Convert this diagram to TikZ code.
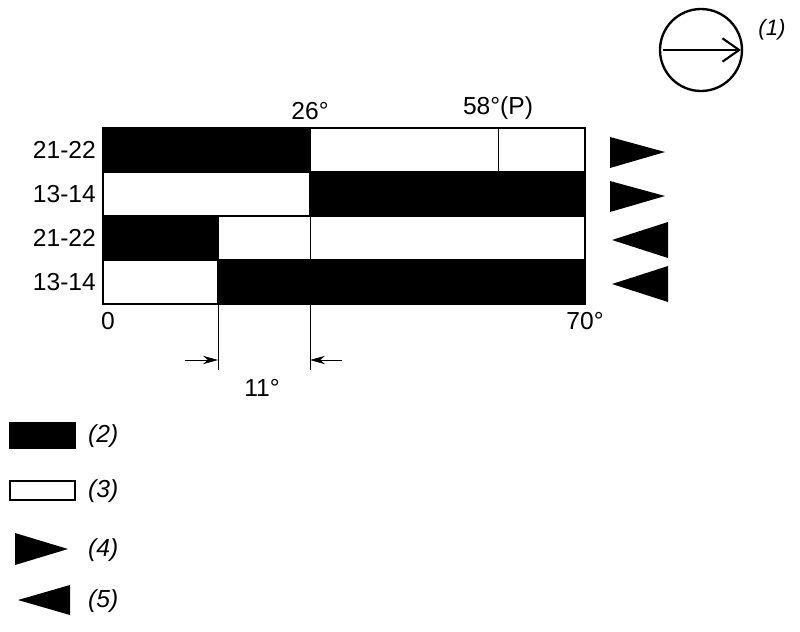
\documentclass[tikz,border=0pt]{standalone}
\usepackage{fontspec}
\setmainfont{Liberation Sans}
\usetikzlibrary{arrows.meta}
\begin{document}
\begin{tikzpicture}[x=0.03cm,y=-0.03cm,font=\fontsize{21}{24}\selectfont,
    bar/.style={draw=black, line width=1pt},
    full/.style={bar, fill=black},
    thin/.style={line width=0.6pt},
    tri/.style={fill=black}]
    \useasboundingbox (0,0) rectangle (800,631);

    % Bars
    \draw[full] (103,128) rectangle (310,172);
    \draw[bar] (310,128) rectangle (585,172);
    \draw[thin] (498,128) -- (498,172);
    \draw[bar] (103,172) rectangle (310,216);
    \draw[full] (310,172) rectangle (585,216);
    \draw[full] (103,216) rectangle (218,260);
    \draw[bar] (218,216) rectangle (585,260);
    \draw[bar] (103,260) rectangle (218,304);
    \draw[full] (218,260) rectangle (585,304);
    \draw[thin] (310,216) -- (310,260);

    % Row labels
    \foreach \y/\t in {150/21-22, 194/13-14, 238/21-22, 282/13-14}
        \node[anchor=east] at (100,\y) {\t};
    \node[anchor=south] at (310,124) {26°};
    \node[anchor=south] at (498,124) {58°(P)};
    \node[anchor=north] at (108,308) {0};
    \node[anchor=north] at (585,308) {70°};

    % Dimension 11°
    \draw[thin] (218,304) -- (218,370);
    \draw[thin] (310,304) -- (310,370);
    \draw[thin, -{Stealth[length=4.5mm,width=2.5mm]}] (185,360) -- (218,360);
    \draw[thin, -{Stealth[length=4.5mm,width=2.5mm]}] (342,360) -- (310,360);
    \node at (262,388) {11°};

    % Direction triangles
    \fill[tri] (610,137) -- (665,152) -- (610,168) -- cycle;
    \fill[tri] (610,181) -- (665,196) -- (610,212) -- cycle;
    \fill[tri] (668,222) -- (612,240) -- (668,258) -- cycle;
    \fill[tri] (668,266) -- (612,284) -- (668,302) -- cycle;

    % Rotation symbol
    \draw[line width=2pt] (701,50) circle (41);
    \draw[line width=1.8pt, -{Straight Barb[length=5mm,width=7mm]}] (663,50) -- (741,50);
    \node[font=\fontsize{19}{22}\selectfont\itshape] at (772,30) {(1)};

    % Legend
    \draw[full] (10,423) rectangle (75,448);
    \draw[bar, line width=1.5pt] (10,481) rectangle (75,500);
    \fill[tri] (15,533) -- (68,549) -- (15,565) -- cycle;
    \fill[tri] (70,585) -- (18,600) -- (70,615) -- cycle;
    \foreach \y/\t in {436/(2), 491/(3), 550/(4), 601/(5)}
        \node[anchor=west, font=\fontsize{21}{24}\selectfont\itshape] at (84,\y) {\t};
\end{tikzpicture}
\end{document}
